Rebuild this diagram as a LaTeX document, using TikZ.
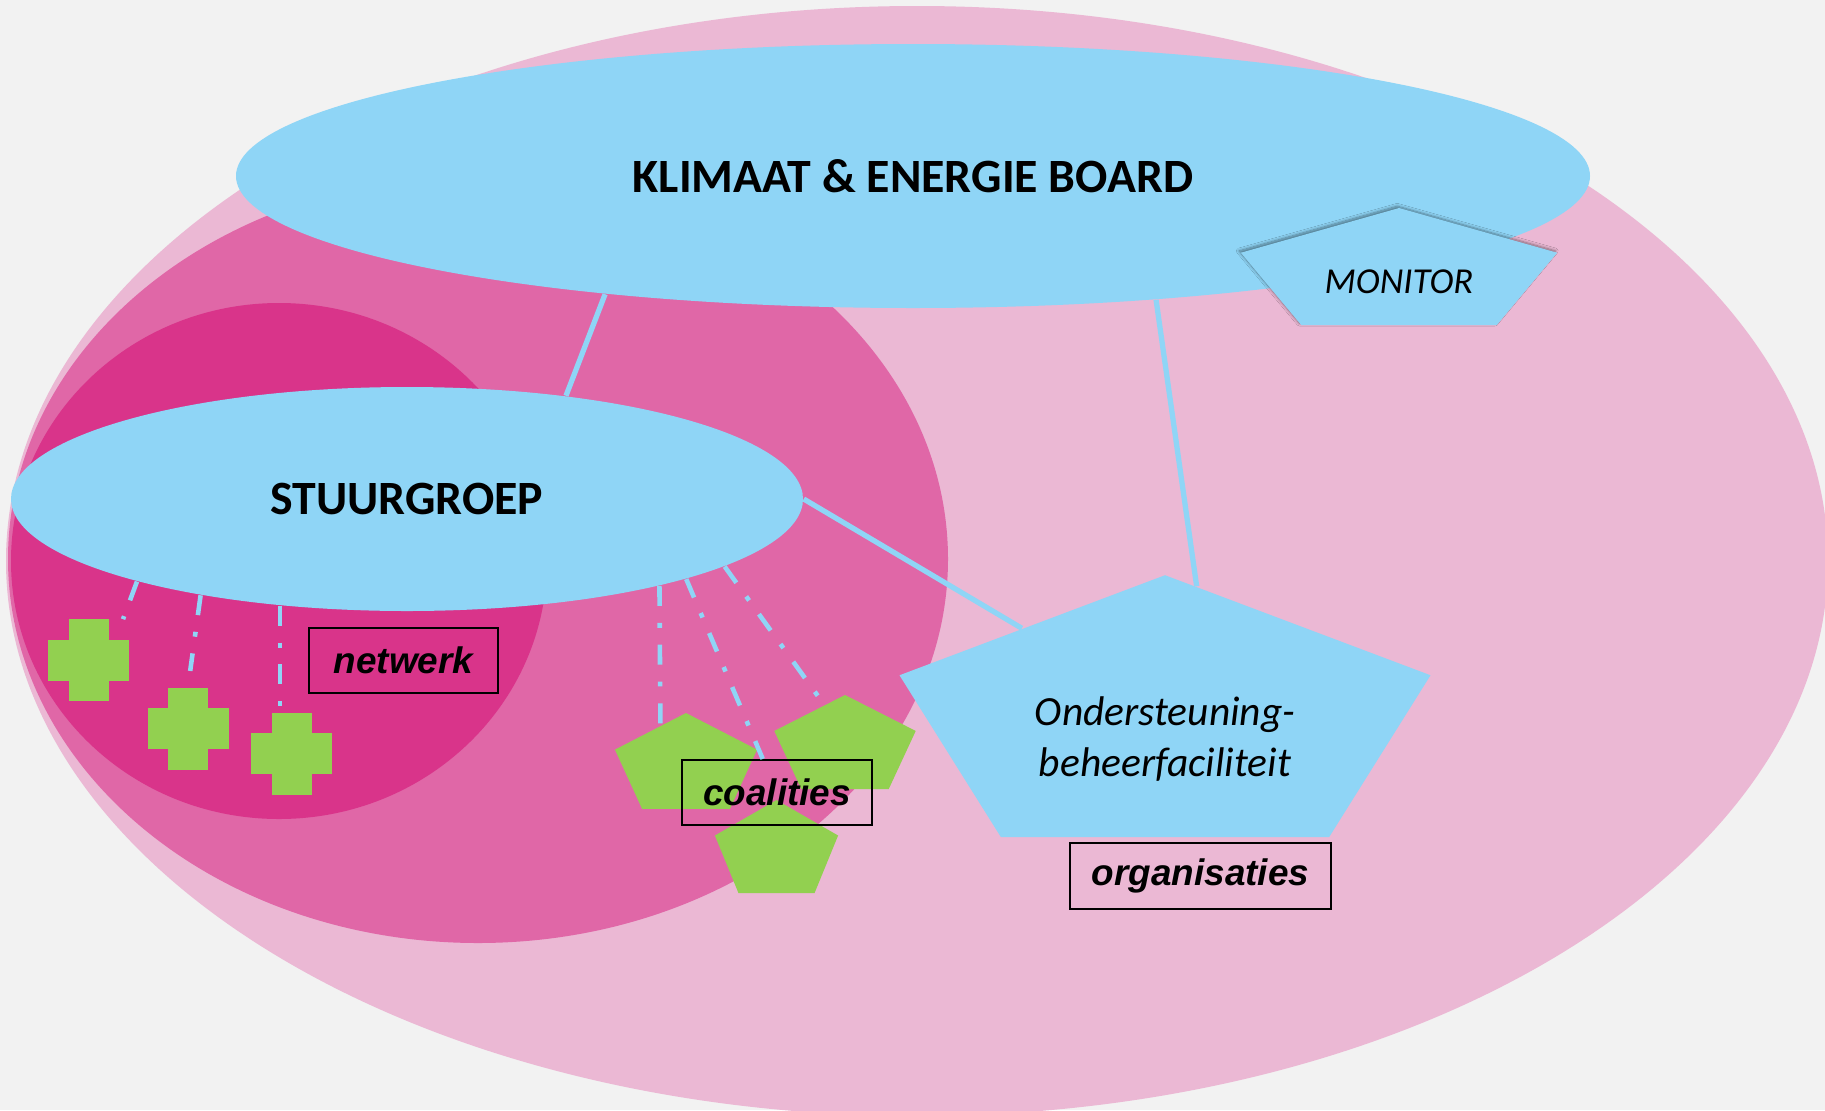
\documentclass[tikz,border=0pt]{standalone}
\usepackage{fontspec}
\setmainfont{Carlito}
\newfontfamily\arialfont{Liberation Sans}
\usepackage{tikz}
\usetikzlibrary{shapes,shadows.blur,calc}

\definecolor{achtergrond}{HTML}{F2F2F2}
\definecolor{lichtroze}{HTML}{EBB8D4}
\definecolor{middenroze}{HTML}{E067A7}
\definecolor{donkerroze}{HTML}{D9348A}
\definecolor{lichtblauw}{HTML}{8FD5F6}
\definecolor{groen}{HTML}{92D050}

\tikzset{
        wolk/.style={ellipse, fill=lichtblauw, inner sep=0pt, font=\bfseries\fontsize{13.6}{16}\selectfont},
        pent/.style={regular polygon, regular polygon sides=5, inner sep=0pt, transform shape},
        kruisv/.style={fill=groen, inner sep=0pt, minimum width=0.40cm, minimum height=0.82cm},
        kruish/.style={fill=groen, inner sep=0pt, minimum width=0.81cm, minimum height=0.41cm},
        kader/.style={draw=black, line width=0.6pt, inner sep=0pt, font=\arialfont\bfseries\itshape\fontsize{10.5}{12}\selectfont},
        lijn/.style={lichtblauw, line width=1.5pt},
        stippel/.style={lichtblauw, line width=1.3pt, dash pattern=on 5.7pt off 4.8pt on 1.4pt off 4.8pt},
}

\begin{document}
\begin{tikzpicture}
        \useasboundingbox (0,0) rectangle (18.25,11.10);
        \clip (0,0) rectangle (18.25,11.10);
        \fill[achtergrond] (0,0) rectangle (18.25,11.10);

        \fill[lichtroze] (9.17,5.49) ellipse [x radius=9.11, y radius=5.55];
        \fill[middenroze] (4.78,5.51) ellipse [x radius=4.70, y radius=3.84];
        \fill[donkerroze] (2.79,5.49) ellipse [x radius=2.68, y radius=2.58];

        \node[wolk, minimum width=13.54cm, minimum height=2.64cm] (board) at (9.13,9.34) {KLIMAAT \& ENERGIE BOARD};
        \node[wolk, minimum width=7.92cm, minimum height=2.24cm] (stuur) at (4.07,6.11) {STUURGROEP};

        \begin{scope}[shift={(13.99,8.373)}, xscale=2.57]
          \node[pent, fill=lichtblauw, minimum size=1.294cm,
                blur shadow={shadow xshift=-0.5pt, shadow yshift=0.5pt, shadow blur radius=0.8pt,
                             shadow blur steps=8, shadow opacity=45}] (monitor) {};
        \end{scope}
        \begin{scope}[shift={(11.65,3.90)}, xscale=1.928]
          \node[pent, fill=lichtblauw, minimum size=2.896cm] (onder) {};
        \end{scope}
        \begin{scope}[shift={(6.86,3.44)}, xscale=1.41]
          \node[pent, fill=groen, minimum size=1.06cm] (groenA) {};
        \end{scope}
        \begin{scope}[shift={(8.45,3.63)}, xscale=1.43]
          \node[pent, fill=groen, minimum size=1.04cm] (groenB) {};
        \end{scope}
        \begin{scope}[shift={(7.765,2.586)}, xscale=1.26]
          \node[pent, fill=groen, minimum size=1.028cm] (groenC) {};
        \end{scope}

        \node[font=\itshape\fontsize{10.4}{12}\selectfont] (monitortekst) at (13.99,8.28) {MONITOR};
        \node[font=\itshape\fontsize{11.8}{14.5}\selectfont, align=center] (ondertekst) at (11.65,3.71) {Ondersteuning-\\beheerfaciliteit};

        \foreach \n/\x/\y in {1/0.886/4.50, 2/1.88/3.815, 3/2.915/3.565} {
          \node[kruisv] (kruis\n) at (\x,\y) {};
          \node[kruish] (kruis\n h) at (kruis\n) {};
        }

        \node[kader, minimum width=1.89cm, minimum height=0.65cm] (netwerk) at (4.035,4.495) {netwerk};
        \node[kader, minimum width=1.90cm, minimum height=0.65cm] (coal) at (7.77,3.175) {coalities};
        \node[kader, minimum width=2.61cm, minimum height=0.66cm] (org) at (12.005,2.34) {organisaties};

        \draw[lijn] (board.201) -- (stuur.33);
        \draw[lijn] (board.333) -- (onder.83);
        \draw[lijn] (stuur.east) -- (onder.129);

        \draw[stippel, shorten >=0.1cm] (stuur.197) -- ($(kruis1.north east)!0.5!(kruis1h.north east)$);
        \draw[stippel, shorten >=0.16cm] (stuur.205) -- (kruis2.north);
        \draw[stippel, shorten >=0.05cm] (stuur.220) -- (stuur.220 |- kruis3.north);
        \draw[stippel] (stuur.341) -- (groenA.114);
        \draw[stippel] (stuur.344) -- (coal);
        \draw[stippel, shorten >=0.08cm] (stuur.348) -- (groenB.109);
\end{tikzpicture}
\end{document}
